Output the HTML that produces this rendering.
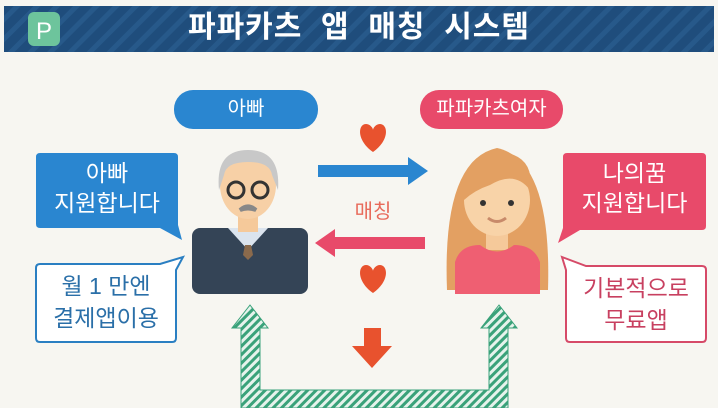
<!DOCTYPE html>
<html><head><meta charset="utf-8"><style>
body{margin:0;width:718px;height:408px;overflow:hidden;background:#f7f6f1;font-family:"Liberation Sans","Noto Sans CJK KR",sans-serif;}
.a{position:absolute}
</style></head><body>
<svg class="a" style="left:0;top:0" width="718" height="408">
<defs>
<pattern id="st" width="14" height="14" patternUnits="userSpaceOnUse" patternTransform="rotate(45)"><rect width="14" height="14" fill="#1f4d7c"/><rect width="5" height="14" fill="#27598a"/></pattern>
<pattern id="gh" width="6" height="6" patternUnits="userSpaceOnUse" patternTransform="rotate(45)"><rect width="6" height="6" fill="#e6f3ec"/><rect width="3" height="6" fill="#3aa27a"/></pattern>
</defs>
<rect x="0" y="0" width="718" height="408" fill="#f7f6f1"/>
<rect x="4" y="6" width="710" height="46" fill="url(#st)"/>
<rect x="28" y="12" width="32" height="34" rx="6" fill="#6dc49c"/>
<text x="44" y="39" font-size="24" fill="#fff" text-anchor="middle" font-family="Liberation Sans">P</text>
<rect x="174" y="90" width="144" height="39" rx="19" fill="#2a86d0"/>
<rect x="420" y="90" width="143" height="39" rx="19" fill="#e84a6a"/>
<path d="M40 153 H174 Q178 153 178 157 V225 L182 240 L160 228 H40 Q36 228 36 224 V157 Q36 153 40 153Z" fill="#2a86d0"/>
<path d="M40 264 H160 L183 257 L176 270 V338 Q176 342 172 342 H40 Q36 342 36 338 V268 Q36 264 40 264Z" fill="#fff" stroke="#2a7fc2" stroke-width="2"/>
<path d="M567 153 H702 Q706 153 706 157 V226 Q706 230 702 230 H580 L558 243 L563 228 V157 Q563 153 567 153Z" fill="#e84a6a"/>
<path d="M562 257 L586 266 H702 Q706 266 706 270 V338 Q706 342 702 342 H570 Q566 342 566 338 V270Z" fill="#fff" stroke="#d64a68" stroke-width="2"/>
<path d="M373 152 C356 140 358 124 366 124 C370 124 373 128 373 130 C373 128 376 124 380 124 C388 124 390 140 373 152Z" fill="#e8522e"/>
<path d="M373 293 C356 281 358 265 366 265 C370 265 373 269 373 271 C373 269 376 265 380 265 C388 265 390 281 373 293Z" fill="#e8522e"/>
<path d="M318 165 H408 V157 L428 171 L408 185 V177 H318Z" fill="#2a86d0"/>
<path d="M425 237 H335 V229 L315 243 L335 257 V249 H425Z" fill="#e84a6a"/>
<path d="M364 328 H381 V346 H392 L372 368 L352 346 H364Z" fill="#e8522e"/>
<path d="M241 328 H232 L250 305 L268 328 H260 V390 H489 V328 H481 L499 305 L517 328 H508 V408 H241Z" fill="url(#gh)" stroke="#3aa27a" stroke-width="1"/>
<rect x="192" y="228" width="116" height="66" rx="8" fill="#344456"/>
<path d="M228 228 L248 250 L268 228Z" fill="#dbe4ee"/>
<path d="M245 245 L251 245 L253 255 L248 260 L243 255Z" fill="#8a6a4c"/>
<rect x="238" y="210" width="20" height="22" fill="#f5c99a"/>
<ellipse cx="248" cy="185" rx="28" ry="34" fill="#f7d0a6"/>
<path d="M219 190 Q215 150 248 150 Q281 150 278 190 L272 175 Q270 162 248 162 Q226 162 224 175Z" fill="#c8c8c8"/>
<circle cx="236" cy="190" r="8" fill="none" stroke="#333" stroke-width="3"/>
<circle cx="260" cy="190" r="8" fill="none" stroke="#333" stroke-width="3"/>
<path d="M240 210 Q248 203 256 210 Q248 207 240 210Z" fill="#888" stroke="#888" stroke-width="4"/>
<path d="M447 290 Q442 160 497 148 Q552 160 548 290Z" fill="#e3a062"/>
<rect x="486" y="225" width="22" height="25" fill="#f5c99a"/>
<ellipse cx="497" cy="200" rx="33" ry="36" fill="#f8d3a8"/>
<path d="M464 200 Q460 152 500 152 Q535 155 530 190 Q515 170 490 185 Q475 190 464 200Z" fill="#e3a062"/>
<circle cx="483" cy="203" r="3" fill="#333"/><circle cx="511" cy="203" r="3" fill="#333"/>
<path d="M488 218 Q497 225 506 218" stroke="#c88a6a" stroke-width="3" fill="none"/>
<path d="M455 294 V262 Q460 245 480 245 Q497 258 514 245 Q534 245 540 262 V294Z" fill="#ef5f72"/>
<text x="373" y="218" font-size="20" fill="#e86a5a" text-anchor="middle" font-family="Liberation Sans,Noto Sans CJK KR,sans-serif">매칭</text>
</svg>
<div class="a" style="left:0;top:8px;width:718px;text-align:center;font-size:30px;font-weight:bold;color:#fff;line-height:40px;letter-spacing:1px">파파카츠&nbsp; 앱&nbsp; 매칭&nbsp; 시스템</div>
<div class="a" style="left:174px;top:90px;width:144px;line-height:39px;text-align:center;color:#fff;font-size:20px">아빠</div>
<div class="a" style="left:420px;top:90px;width:143px;line-height:39px;text-align:center;color:#fff;font-size:20px">파파카츠여자</div>
<div class="a" style="left:36px;top:158px;width:142px;line-height:30px;text-align:center;color:#fff;font-size:23px">아빠<br>지원합니다</div>
<div class="a" style="left:36px;top:270px;width:140px;line-height:32px;text-align:center;color:#2a6fa8;font-size:23px">월 1 만엔<br>결제앱이용</div>
<div class="a" style="left:563px;top:158px;width:143px;line-height:30px;text-align:center;color:#fff;font-size:23px">나의꿈<br>지원합니다</div>
<div class="a" style="left:566px;top:272px;width:140px;line-height:32px;text-align:center;color:#c84060;font-size:23px">기본적으로<br>무료앱</div>
</body></html>
